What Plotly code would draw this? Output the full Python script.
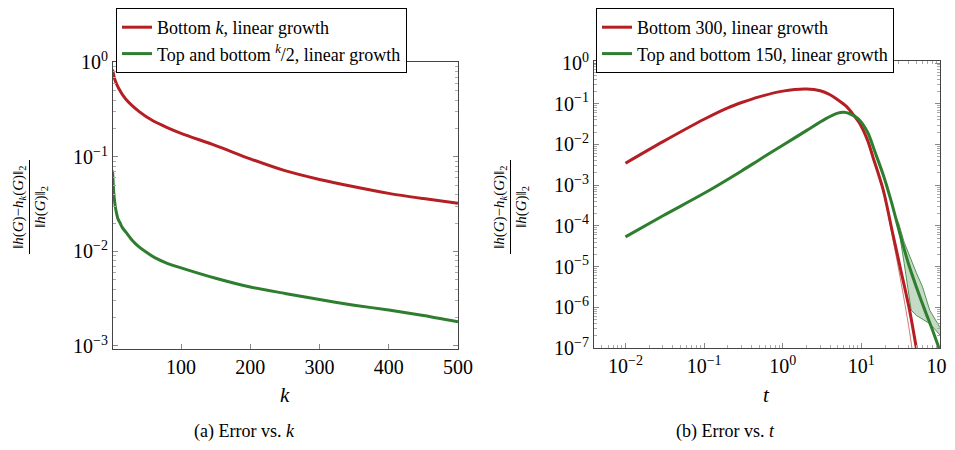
import plotly.graph_objects as go

# ---------------- data: (a) error vs k ----------------
k_red = [1, 3, 5, 10, 20, 40, 60, 80, 100, 150, 200, 250, 300, 350, 400, 450, 500]
err_red = [0.84, 0.72, 0.64, 0.53, 0.41, 0.30, 0.24, 0.205, 0.178, 0.132, 0.0955, 0.0716, 0.0578, 0.0484,
           0.0412, 0.0363, 0.0324]

k_green = [1, 2, 3, 5, 7, 9, 12, 15, 21, 30, 38, 50, 62, 80, 100, 150, 200, 250, 300, 350, 400, 450, 500]
err_green = [0.072, 0.052, 0.040, 0.030, 0.025, 0.022, 0.020, 0.018, 0.0158, 0.013, 0.0114, 0.0098, 0.0086,
             0.0075, 0.0067, 0.0052, 0.0042, 0.0036, 0.0031, 0.0027, 0.0024, 0.0021, 0.0018]

# ---------------- data: (b) error vs t ----------------
t_red = [0.01, 0.03, 0.1, 0.2, 0.3, 0.5, 1, 2, 3, 4, 5, 6.5, 8, 9.5, 12, 14, 19, 25, 31, 41, 50]
logerr_red = [-2.46, -1.93, -1.38, -1.10, -0.97, -0.83, -0.69, -0.64, -0.68, -0.78, -0.90, -1.07, -1.28,
              -1.48, -1.90, -2.30, -3.12, -4.18, -5.0, -6.07, -7.0]
t_red_band = [14, 19, 25, 31, 41, 46]
logerr_red_lo = [-2.33, -3.17, -4.30, -5.25, -6.6, -7.3]

t_green = [0.01, 0.03, 0.1, 0.3, 0.5, 1, 2, 3.5, 5, 6, 7, 9, 12, 15, 19, 24, 30, 40, 50, 65, 80, 97]
logerr_green = [-4.27, -3.75, -3.2, -2.65, -2.38, -2.02, -1.66, -1.37, -1.23, -1.21, -1.24, -1.36, -1.70,
                -2.2, -2.75, -3.4, -4.1, -4.95, -5.5, -6.1, -6.55, -7.0]
t_green_band = [27, 30, 35, 43, 50, 60, 74, 100]
logerr_green_hi = [-3.75, -3.95, -4.4, -4.84, -5.15, -5.5, -6.07, -6.5]
logerr_green_lo = [-3.75, -4.1, -4.92, -6.07, -6.2, -6.29, -6.4, -6.68]

RED = "#b51f24"
GREEN = "#2f7d2f"
GREEN_FILL = "rgba(47,125,47,0.28)"
FONT = "Liberation Serif"

def p10(v):
    return [10 ** x for x in v]

fig = go.Figure()

# (a)
fig.add_trace(go.Scatter(x=k_red, y=err_red, mode="lines",
                         line=dict(color=RED, width=3, shape="spline", smoothing=0.8),
                         name="Bottom <i>k</i>, linear growth", legend="legend",
                         xaxis="x", yaxis="y"))
fig.add_trace(go.Scatter(x=k_green, y=err_green, mode="lines",
                         line=dict(color=GREEN, width=3, shape="spline", smoothing=0.6),
                         name="Top and bottom <sup><i>k</i></sup>/2, linear growth", legend="legend",
                         xaxis="x", yaxis="y"))

# (b) bands
fig.add_trace(go.Scatter(x=t_red_band, y=p10(logerr_red_lo), mode="lines",
                         line=dict(color="rgba(181,31,36,0.6)", width=1, shape="spline"), showlegend=False,
                         xaxis="x2", yaxis="y2"))
fig.add_trace(go.Scatter(x=t_green_band, y=p10(logerr_green_hi), mode="lines",
                         line=dict(color="rgba(47,125,47,0.8)", width=1), showlegend=False,
                         xaxis="x2", yaxis="y2"))
fig.add_trace(go.Scatter(x=t_green_band, y=p10(logerr_green_lo), mode="lines",
                         line=dict(color="rgba(47,125,47,0.8)", width=1), fill="tonexty",
                         fillcolor=GREEN_FILL, showlegend=False, xaxis="x2", yaxis="y2"))
# (b) main lines
fig.add_trace(go.Scatter(x=t_red, y=p10(logerr_red), mode="lines",
                         line=dict(color=RED, width=3, shape="spline", smoothing=0.8),
                         name="Bottom 300, linear growth", legend="legend2",
                         xaxis="x2", yaxis="y2"))
fig.add_trace(go.Scatter(x=t_green, y=p10(logerr_green), mode="lines",
                         line=dict(color=GREEN, width=3, shape="spline", smoothing=0.8),
                         name="Top and bottom 150, linear growth", legend="legend2",
                         xaxis="x2", yaxis="y2"))

# page body has an 8px margin: lay the figure out in a 947x442 box offset by 8px
OFF = 8
W, H = 955 - OFF, 450 - OFF
def px(x):
    return (x - OFF) / W
def py(y):
    return 1 - (y - OFF) / H

axis_common = dict(showline=True, linecolor="#444", linewidth=1, mirror="allticks",
                   ticks="inside", ticklen=5, tickcolor="#888", showgrid=False, zeroline=False,
                   automargin=False,
                   tickfont=dict(family=FONT, size=20, color="black"))
minor_log = dict(ticks="inside", ticklen=3, tickcolor="#aaa", dtick="D1", showgrid=False)

def sup(n):
    return "10<sup>%s</sup>" % (str(n).replace("-", "−"))

legend_common = dict(xanchor="left", yanchor="top", bgcolor="white", bordercolor="black",
                     borderwidth=1, font=dict(family=FONT, size=18), tracegroupgap=0,
                     traceorder="normal")

fig.update_layout(
    width=W, height=H, margin=dict(l=0, r=0, t=0, b=0, autoexpand=False),
    paper_bgcolor="white", plot_bgcolor="white",
    font=dict(family=FONT, size=18, color="black"),
    xaxis=dict(domain=[px(113), px(458)], range=[1.7, 500], tickvals=[100, 200, 300, 400, 500],
               anchor="y", **axis_common),
    yaxis=dict(domain=[py(349), py(62)], type="log", range=[-3.032, 0.005],
               tickvals=[1, 0.1, 0.01, 0.001], ticktext=[sup(0), sup(-1), sup(-2), sup(-3)],
               minor=minor_log, anchor="x", **axis_common),
    xaxis2=dict(domain=[px(594), px(940)], type="log", range=[-2.4, 2.0],
                tickvals=[0.01, 0.1, 1, 10, 100], ticktext=[sup(-2), sup(-1), sup(0), sup(1), sup(2)],
                minor=minor_log, anchor="y2", **axis_common),
    yaxis2=dict(domain=[py(348), py(61)], type="log", range=[-7.0, 0.05],
                tickvals=[1, 0.1, 0.01, 1e-3, 1e-4, 1e-5, 1e-6, 1e-7],
                ticktext=[sup(0), sup(-1), sup(-2), sup(-3), sup(-4), sup(-5), sup(-6), sup(-7)],
                minor=minor_log, anchor="x2", **axis_common),
    legend=dict(x=px(116), y=1.0, **legend_common),
    legend2=dict(x=px(596), y=1.0, **legend_common),
    showlegend=True,
)

num = "‖<i>h</i>(<i>G</i>)−<i>h</i><sub><i>k</i></sub>(<i>G</i>)‖<sub>2</sub>"
den = "‖<i>h</i>(<i>G</i>)‖<sub>2</sub>"
for off in (0, 481):
    fig.add_annotation(x=px(19 + off), y=py(207), xref="paper", yref="paper", text=num,
                       xanchor="center", yanchor="middle",
                       textangle=-90, showarrow=False, font=dict(family=FONT, size=15))
    fig.add_annotation(x=px(41 + off), y=py(207), xref="paper", yref="paper", text=den,
                       xanchor="center", yanchor="middle",
                       textangle=-90, showarrow=False, font=dict(family=FONT, size=15))
    fig.add_shape(type="line", xref="paper", yref="paper", x0=px(29.5 + off), x1=px(29.5 + off),
                  y0=py(160), y1=py(254), line=dict(color="black", width=1))

ann = dict(xref="paper", yref="paper", showarrow=False, xanchor="center", yanchor="middle")
fig.add_annotation(x=px(285), y=py(395), text="<i>k</i>", font=dict(family=FONT, size=21), **ann)
fig.add_annotation(x=px(766), y=py(395), text="<i>t</i>", font=dict(family=FONT, size=21), **ann)
fig.add_annotation(x=px(245), y=py(431), text="(a) Error vs. <i>k</i>", font=dict(family=FONT, size=18), **ann)
fig.add_annotation(x=px(725), y=py(431), text="(b) Error vs. <i>t</i>", font=dict(family=FONT, size=18), **ann)

fig.write_html("out.html")
